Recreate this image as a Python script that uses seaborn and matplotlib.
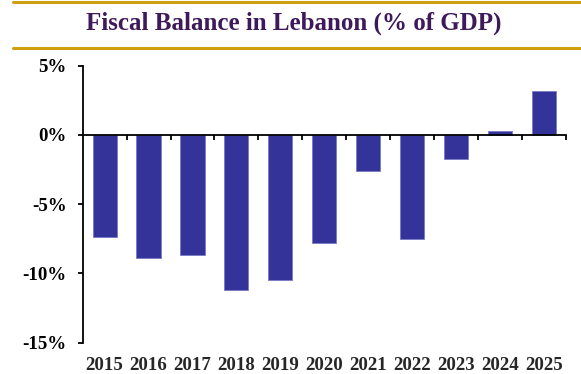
import matplotlib
matplotlib.use("Agg")
import matplotlib.pyplot as plt
import seaborn as sns
import pandas as pd
from matplotlib.lines import Line2D
from matplotlib.ticker import FuncFormatter, FixedLocator

# Fiscal balance, % of GDP
years = ["2015", "2016", "2017", "2018", "2019", "2020",
         "2021", "2022", "2023", "2024", "2025"]
balance = [-7.4, -8.9, -8.7, -11.2, -10.5, -7.8,
           -2.6, -7.5, -1.7, 0.3, 3.2]

title = "Fiscal Balance in Lebanon (% of GDP)"
bar_color = "#333399"
gold = "#CE9F10"
purple = "#3E1A5B"

sns.set_theme(style="white")
plt.rcParams["font.family"] = ["Liberation Serif", "DejaVu Serif"]
plt.rcParams["font.weight"] = "bold"

df = pd.DataFrame({"year": years, "balance": balance})

fig = plt.figure(figsize=(5.81, 3.74), dpi=100)
ax = fig.add_axes([0.1423, 0.0837, 0.8314, 0.7406])

sns.barplot(data=df, x="year", y="balance", color=bar_color, saturation=1,
            width=0.55, ax=ax, edgecolor="#7a7ac8", linewidth=0.6)

ax.set_ylim(-15, 5)
ax.set_xlim(-0.5, len(years) - 0.5)
ax.set_xlabel("")
ax.set_ylabel("")

# y axis: percent ticks
ax.yaxis.set_major_locator(FixedLocator([-15, -10, -5, 0, 5]))
ax.yaxis.set_major_formatter(FuncFormatter(lambda v, _: f"{v:.0f}%"))
ax.tick_params(axis="y", left=True, length=3.6, width=1.3, color="black",
               pad=8.0, labelsize=13.6, labelcolor="black")
for lab in ax.get_yticklabels():
    lab.set_fontweight("bold")

# zero line with category-boundary ticks
for s in ["top", "right"]:
    ax.spines[s].set_visible(False)
ax.spines["left"].set_color("black")
ax.spines["left"].set_linewidth(1.3)
ax.spines["bottom"].set_position(("data", 0))
ax.spines["bottom"].set_color("black")
ax.spines["bottom"].set_linewidth(1.3)
ax.set_xticks([i + 0.5 for i in range(len(years))])
ax.tick_params(axis="x", bottom=True, length=3.6, width=1.3, color="black",
               labelbottom=False)

# year labels along the bottom edge
sec = ax.secondary_xaxis(0)
sec.set_xticks(range(len(years)))
sec.set_xticklabels(years, fontsize=13.6, fontweight="bold")
sec.tick_params(axis="x", length=0, pad=10)
sec.spines["bottom"].set_visible(False)

# header with gold rules
fig.text(0.506, 0.937, title, ha="center", va="center", fontsize=18,
         fontweight="bold", color=purple)
fig.add_artist(Line2D([13 / 581, 1], [1 - 2 / 374, 1 - 2 / 374],
                      transform=fig.transFigure, color=gold, lw=2.2))
fig.add_artist(Line2D([13 / 581, 1], [1 - 47.5 / 374, 1 - 47.5 / 374],
                      transform=fig.transFigure, color=gold, lw=2.2))

fig.savefig("out.png", dpi=100)
